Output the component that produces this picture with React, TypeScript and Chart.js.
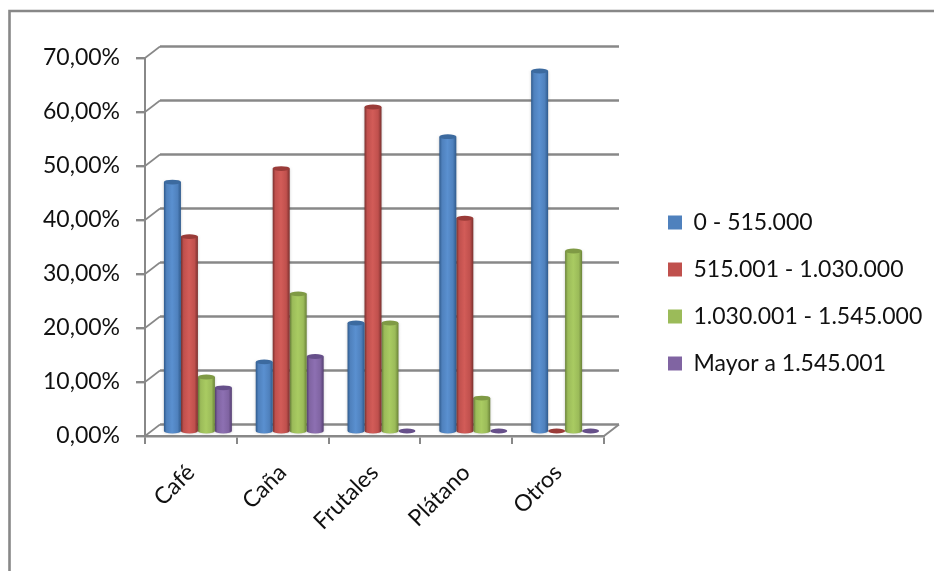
import React, { useEffect, useRef } from "react";
import { Chart, registerables } from "chart.js";

Chart.register(...registerables);

const categories = ["Café", "Caña", "Frutales", "Plátano", "Otros"];
const seriesA = [46.1, 12.8, 20.0, 54.5, 66.67];
const seriesB = [36.0, 48.6, 60.0, 39.4, 0];
const seriesC = [10.0, 25.4, 20.0, 6.1, 33.33];
const seriesD = [8.0, 13.8, 0, 0, 0];
const seriesNames = ["0 - 515.000", "515.001 - 1.030.000", "1.030.001 - 1.545.000", "Mayor a 1.545.001"];
const colors = ["#4F81BD", "#C0504D", "#9BBB59", "#8064A2"];
const darks = ["#2f5a8c", "#7a302e", "#6a8238", "#553f72"];
const tops = ["#3c6a9f", "#9a3b38", "#7f9a45", "#664f8a"];
const lights = ["#5a90d0", "#d25c58", "#a9cb62", "#8d70b2"];

const LINE = "#888888";
const FONT = { family: "Lato, 'Open Sans', sans-serif", size: 23 };

const scene = {
  id: "scene",
  beforeLayout(chart: any) {
    const l = chart.legend;
    if (l && !l.__patched) {
      const f = l.fit;
      l.fit = function () {
        f.call(this);
        this.width = 330;
      };
      l.__patched = true;
    }
  },
  afterLayout(chart: any) {
    const xb = chart.scales.xBars;
    xb.left += 7;
    xb.right += 7;
    xb.configure();
    const l = chart.legend;
    const h = l.height;
    const w = l.width;
    l.left = 644;
    l.right = 644 + w;
    l.top = 187;
    l.bottom = 187 + h;
  },
  beforeDraw(chart: any) {
    const { ctx, width, height } = chart;
    ctx.save();
    ctx.strokeStyle = LINE;
    ctx.lineWidth = 2.6;
    ctx.beginPath();
    ctx.moveTo(9.5, height);
    ctx.lineTo(9.5, 11);
    ctx.lineTo(width, 11);
    ctx.stroke();
    ctx.restore();
  },
  beforeDatasetsDraw(chart: any) {
    const { ctx } = chart;
    const y = chart.scales.y;
    const x = chart.scales.x;
    const dx = 15;
    const dy = 11.5;
    ctx.save();
    ctx.strokeStyle = LINE;
    y.ticks.forEach((_: any, i: number) => {
      const py = y.getPixelForTick(i);
      ctx.lineWidth = 1.6;
      ctx.beginPath();
      ctx.moveTo(x.left, py);
      ctx.lineTo(x.left + dx, py - dy);
      ctx.stroke();
      ctx.lineWidth = 2.6;
      ctx.beginPath();
      ctx.moveTo(x.left + dx, py - dy);
      ctx.lineTo(x.right + dx, py - dy);
      ctx.stroke();
    });
    const p0 = y.getPixelForValue(0);
    ctx.lineWidth = 2;
    ctx.beginPath();
    ctx.moveTo(x.right, p0);
    ctx.lineTo(x.right + dx, p0 - dy);
    ctx.stroke();
    ctx.restore();
  },
  beforeDatasetDraw(chart: any, args: any) {
    const { ctx } = chart;
    const i = args.index;
    const meta = args.meta;
    meta.data.forEach((el: any) => {
      const w = el.width;
      const xl = el.x - w / 2;
      const xr = el.x + w / 2;
      const top = el.y;
      const base = el.base;
      const rx = w / 2;
      const ry = 2.4;
      ctx.save();
      if (base - top > 0.5) {
        const g = ctx.createLinearGradient(xl, 0, xr, 0);
        g.addColorStop(0, darks[i]);
        g.addColorStop(0.16, colors[i]);
        g.addColorStop(0.48, lights[i]);
        g.addColorStop(0.8, colors[i]);
        g.addColorStop(1, darks[i]);
        ctx.shadowColor = "rgba(60,60,60,0.3)";
        ctx.shadowBlur = 3;
        ctx.fillStyle = g;
        ctx.beginPath();
        ctx.moveTo(xl, top);
        ctx.lineTo(xl, base);
        ctx.ellipse(el.x, base, rx, ry, 0, Math.PI, 0, true);
        ctx.lineTo(xr, top);
        ctx.closePath();
        ctx.fill();
        ctx.shadowColor = "transparent";
      }
      ctx.fillStyle = tops[i];
      ctx.beginPath();
      ctx.ellipse(el.x, top, rx, ry, 0, 0, Math.PI * 2);
      ctx.fill();
      ctx.restore();
    });
    return false;
  },
};

export default function App() {
  const ref = useRef<HTMLCanvasElement>(null);
  useEffect(() => {
    const mk = (label: string, data: number[], i: number) => ({
      label,
      data,
      backgroundColor: colors[i],
      borderWidth: 0,
      xAxisID: "xBars",
      yAxisID: "yBars",
      categoryPercentage: 0.74,
      barPercentage: 1,
    });
    const chart = new Chart(ref.current as HTMLCanvasElement, {
      type: "bar",
      data: {
        labels: categories,
        datasets: [
          mk(seriesNames[0], seriesA, 0),
          mk(seriesNames[1], seriesB, 1),
          mk(seriesNames[2], seriesC, 2),
          mk(seriesNames[3], seriesD, 3),
        ],
      },
      plugins: [scene],
      options: {
        responsive: false,
        animation: false,
        devicePixelRatio: 1,
        layout: { padding: { top: 58, left: 0, right: 0, bottom: 0 } },
        plugins: {
          tooltip: { enabled: false },
          legend: {
            position: "right",
            align: "start",
            labels: {
              boxWidth: 14,
              boxHeight: 14,
              padding: 24,
              color: "#111",
              font: FONT,
            },
          },
        },
        scales: {
          x: {
            type: "category",
            offset: true,
            afterFit: (s: any) => {
              s.height = 135;
            },
            border: { color: LINE, width: 2.6 },
            grid: { offset: true, drawOnChartArea: false, color: LINE, lineWidth: 2, tickLength: 8 },
            ticks: { minRotation: 45, maxRotation: 45, padding: 15, color: "#111", font: FONT },
          },
          y: {
            type: "linear",
            min: 0,
            max: 70,
            afterFit: (s: any) => {
              s.width = 145;
            },
            border: { color: LINE, width: 2 },
            grid: { drawOnChartArea: false, color: LINE, lineWidth: 2.4, tickLength: 9 },
            ticks: {
              stepSize: 10,
              padding: 16,
              color: "#111",
              font: FONT,
              callback: (v: any) => Number(v).toFixed(2).replace(".", ",") + "%",
            },
          },
          xBars: { type: "category", offset: true, display: false, grid: { offset: true } },
          yBars: { type: "linear", min: -0.926, max: 69.074, display: false },
        },
      },
    } as any);
    return () => chart.destroy();
  }, []);
  return (
    <canvas
      ref={ref}
      width={934}
      height={571}
      style={{ position: "fixed", left: 0, top: 0, width: 934, height: 571, display: "block", background: "#fff" }}
    />
  );
}
